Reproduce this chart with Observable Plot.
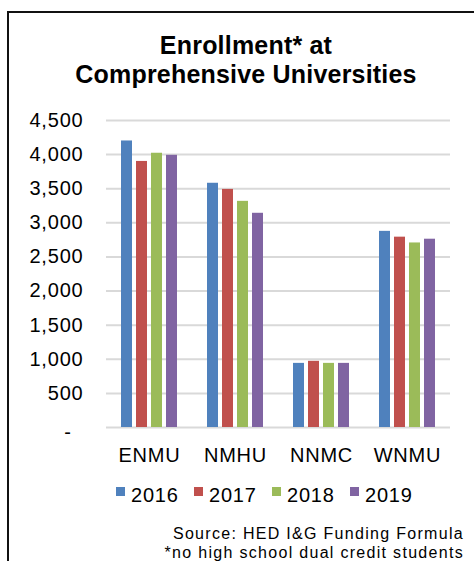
<!DOCTYPE html>
<html>
<head>
<meta charset="utf-8">
<script src="https://cdn.jsdelivr.net/npm/d3@7"></script>
<script src="https://cdn.jsdelivr.net/npm/@observablehq/plot@0.6"></script>
<style>
  html, body { margin: 0; padding: 0; background: #fff; overflow: hidden; }
  #wrap { position: relative; width: 474px; height: 561px; overflow: hidden; font-family: "Liberation Sans", Arial, sans-serif; color: #000; }
  #frame { position: absolute; left: 7px; top: 11px; width: 700px; height: 800px; border-left: 2px solid #111; border-top: 2px solid #111; box-sizing: border-box; }
  #title { position: absolute; left: 18px; top: 31px; width: 456px; text-align: center; font-weight: bold; font-size: 25px; line-height: 29px; letter-spacing: 0.2px; }
  #chart { position: absolute; left: 0; top: 100px; }
  #legend { position: absolute; top: 484px; left: 0; width: 474px; height: 24px; }
  .item { position: absolute; top: 0; font-size: 20px; line-height: 22px; letter-spacing: 0.8px; white-space: nowrap; }
  .sw { position: absolute; top: 3px; width: 9px; height: 9px; }
  #caption { position: absolute; right: 10px; top: 525px; text-align: right; font-size: 16px; line-height: 18.5px; letter-spacing: 1.3px; white-space: nowrap; }
</style>
</head>
<body>
<div id="wrap">
  <div id="frame"></div>
  <div id="title"></div>
  <div id="chart"></div>
  <div id="legend"></div>
  <div id="caption"></div>
</div>
<script>
// ---- data ----
const universities = ["ENMU", "NMHU", "NNMC", "WNMU"];
const years = ["2016", "2017", "2018", "2019"];
const enrollment2016 = [4200, 3580, 940, 2875];
const enrollment2017 = [3900, 3490, 970, 2790];
const enrollment2018 = [4020, 3315, 940, 2705];
const enrollment2019 = [3990, 3140, 940, 2760];
const yTicks = [0, 500, 1000, 1500, 2000, 2500, 3000, 3500, 4000, 4500];
const colors = ["#4F81BD", "#C0504D", "#9BBB59", "#8064A2"];
const titleLines = ["Enrollment* at", "Comprehensive Universities"];
const captionLines = ["Source: HED I&G Funding Formula", "*no high school dual credit students"];

const series = [enrollment2016, enrollment2017, enrollment2018, enrollment2019];
const rows = [];
universities.forEach((u, i) => {
  years.forEach((yr, j) => rows.push({uni: u, year: yr, value: series[j][i]}));
});

// ---- title & caption ----
document.getElementById("title").innerHTML = titleLines.join("<br>");
document.getElementById("caption").innerHTML = captionLines.join("<br>");

// ---- legend ----
const legend = document.getElementById("legend");
const legendLeft = [116, 194, 272, 350];
years.forEach((yr, j) => {
  const it = document.createElement("div");
  it.className = "item";
  it.style.left = legendLeft[j] + "px";
  const sw = document.createElement("div");
  sw.className = "sw";
  sw.style.left = "0px";
  sw.style.background = colors[j];
  const tx = document.createElement("span");
  tx.style.marginLeft = "15px";
  tx.textContent = yr;
  it.appendChild(sw);
  it.appendChild(tx);
  legend.appendChild(it);
});

// ---- chart ----
const fmt = d3.format(",");
const chart = Plot.plot({
  width: 474,
  height: 360,
  marginLeft: 104,
  marginRight: 23,
  marginTop: 20,
  marginBottom: 33,
  style: {fontFamily: "'Liberation Sans', Arial, sans-serif", fontSize: "20px", color: "#000", letterSpacing: "0.8px", background: "transparent", overflow: "visible"},
  fx: {domain: universities, padding: 0, axis: "bottom", tickSize: 0, tickPadding: 20, label: null},
  x: {domain: years, paddingInner: 0.25, paddingOuter: 0.836, axis: null},
  y: {domain: [0, 4500], ticks: yTicks, tickSize: 0, tickPadding: 23, tickFormat: d => d === 0 ? "" : fmt(d), label: null},
  color: {domain: years, range: colors},
  marks: [
    Plot.ruleY(yTicks, {stroke: "#d9d9d9", strokeWidth: 2}),
    Plot.barY(rows, {fx: "uni", x: "year", y: "value", fill: "year"}),
    Plot.text(["-"], {fx: () => universities[0], y: () => 0, text: d => d, frameAnchor: "left", dx: -38.5, dy: 5, textAnchor: "middle"})
  ]
});
document.getElementById("chart").appendChild(chart);
</script>
</body>
</html>
